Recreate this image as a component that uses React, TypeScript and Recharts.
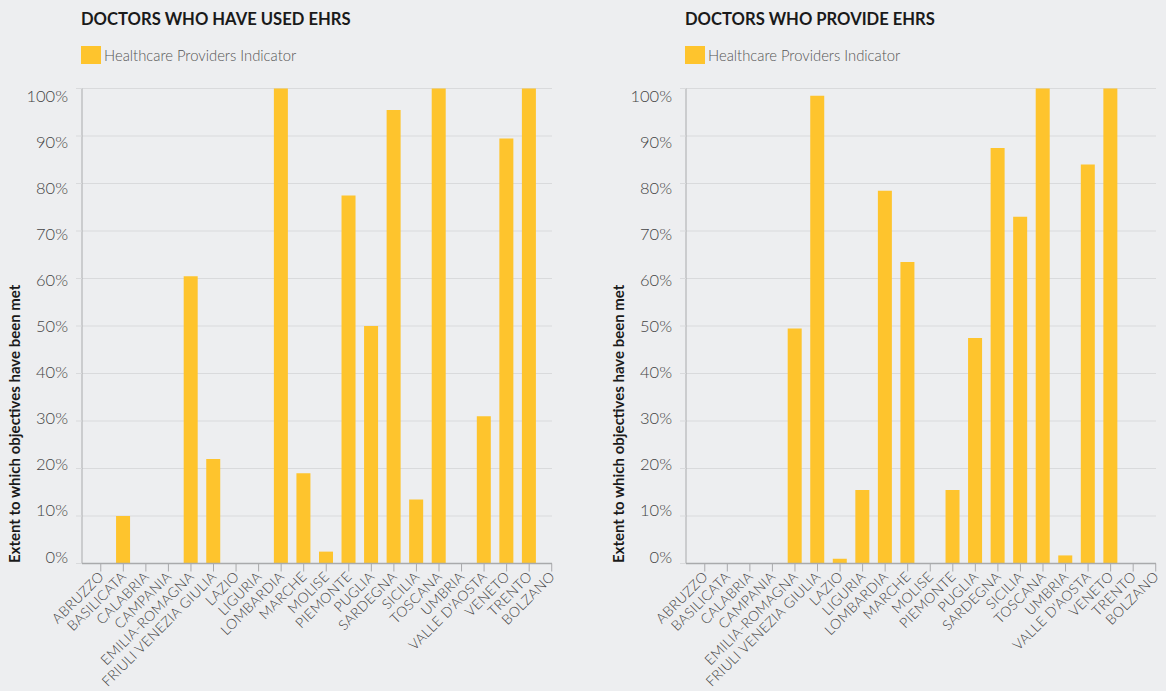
import { BarChart, Bar, XAxis, YAxis, CartesianGrid } from 'recharts'

const regions = [
  'ABRUZZO', 'BASILICATA', 'CALABRIA', 'CAMPANIA', 'EMILIA-ROMAGNA', 'FRIULI VENEZIA GIULIA',
  'LAZIO', 'LIGURIA', 'LOMBARDIA', 'MARCHE', 'MOLISE', 'PIEMONTE', 'PUGLIA', 'SARDEGNA',
  'SICILIA', 'TOSCANA', 'UMBRIA', "VALLE D'AOSTA", 'VENETO', 'TRENTO', 'BOLZANO',
]

// share of objectives met, %
const usedEhrs = [0, 10, 0, 0, 60.5, 22, 0, 0, 100, 19, 2.5, 77.5, 50, 95.5, 13.5, 100, 0, 31, 89.5, 100, 0]
const provideEhrs = [0, 0, 0, 0, 49.5, 98.5, 1, 15.5, 78.5, 63.5, 0, 15.5, 47.5, 87.5, 73, 100, 1.7, 84, 100, 0, 0]

const yTicks = [0, 10, 20, 30, 40, 50, 60, 70, 80, 90, 100]

const titles = ['DOCTORS WHO HAVE USED EHRS', 'DOCTORS WHO PROVIDE EHRS']
const legendLabel = 'Healthcare Providers Indicator'
const yTitle = 'Extent to which objectives have been met'

const BG = '#edeef0'
const BAR = '#fec42d'
const GRID = '#d9dadc'
const AXIS = '#a9aaac'
const FONT = 'Lato, "Open Sans", sans-serif'

// the labels in the original sit on a slightly tighter spacing than the gridlines
const YTick = ({ x, y, payload }: any) => (
  <text x={x} y={y} dy={7.5 - (100 - payload.value) * 0.145} textAnchor="end" dominantBaseline="central"
    fontFamily={FONT} fontSize={16.5} fontWeight={300} fill="#444">
    {payload.value}%
  </text>
)

const XTick = ({ x, y, payload }: any) => {
  const ax = x + 4
  const ay = y + 4
  return (
    <text x={ax} y={ay} textAnchor="end" transform={`rotate(-45, ${ax}, ${ay})`}
      fontFamily={FONT} fontSize={14} fontWeight={300} letterSpacing={0.3} fill="#444">
      {payload.value}
    </text>
  )
}

function RegionChart({ values, left }: { values: number[]; left: number }) {
  const data = regions.map((region, i) => ({ region, value: values[i] }))
  return (
    <div style={{ position: 'absolute', left, top: 0 }}>
      <BarChart width={583} height={691} data={data}
        margin={{ top: 88.5, right: 31, bottom: 7.5, left: 22 }}>
        <CartesianGrid vertical={false} stroke={GRID} />
        <XAxis dataKey="region" interval={0} height={120} tick={<XTick />}
          tickLine={{ stroke: AXIS }} tickSize={8} tickMargin={2}
          axisLine={{ stroke: AXIS, strokeWidth: 1.5 }} padding={{ left: 7.5, right: -11 }} />
        <YAxis width={60} domain={[0, 100]} ticks={yTicks} interval={0} tick={<YTick />}
          tickLine={{ stroke: GRID }} tickSize={6} tickMargin={8}
          axisLine={{ stroke: AXIS }} />
        <Bar dataKey="value" fill={BAR} barSize={14} isAnimationActive={false} />
      </BarChart>
    </div>
  )
}

export default function App() {
  const offsets = [0, 604]
  return (
    <div style={{ position: 'absolute', left: 0, top: 0, width: 1166, height: 691, background: BG, overflow: 'hidden' }}>
      <RegionChart values={usedEhrs} left={offsets[0]} />
      <RegionChart values={provideEhrs} left={offsets[1]} />
      <svg width={1166} height={691} style={{ position: 'absolute', left: 0, top: 0, pointerEvents: 'none' }}>
        {offsets.map((dx, i) => (
          <g key={i}>
            <text x={81 + dx} y={25} fontFamily={FONT} fontSize={16.6} fontWeight={700} fill="#1a1a1a">
              {titles[i]}
            </text>
            <rect x={81 + dx} y={46} width={20} height={18} fill={BAR} />
            <text x={104 + dx} y={61} fontFamily={FONT} fontSize={14.8} fontWeight={300} fill="#555">
              {legendLabel}
            </text>
            <text x={19.5 + dx} y={563} transform={`rotate(-90, ${19.5 + dx}, 563)`}
              fontFamily={FONT} fontSize={15} fontWeight={700} fill="#1a1a1a">
              {yTitle}
            </text>
          </g>
        ))}
      </svg>
    </div>
  )
}
